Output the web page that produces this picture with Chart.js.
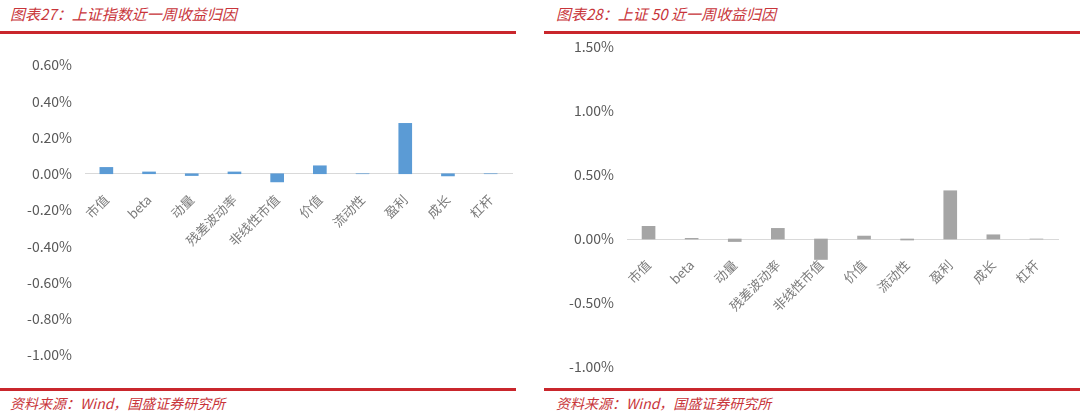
<!DOCTYPE html>
<html>
<head>
<meta charset="utf-8">
<script src="https://cdn.jsdelivr.net/npm/chart.js@4/dist/chart.umd.min.js"></script>
<style>
  body { margin: 0; width: 1080px; height: 414px; background: #fff; position: relative; overflow: hidden; }
  .title { position: absolute; top: 3px; font: italic 15px "Noto Sans CJK SC", sans-serif; color: #c8353a; }
  .src { position: absolute; top: 393px; font: italic 14px "Noto Sans CJK SC", sans-serif; color: #c8353a; }
  .line { position: absolute; height: 3px; background: #c9262c; }
  .box { position: absolute; top: 0; width: 540px; height: 414px; }
</style>
</head>
<body>
<div class="title" style="left:10px">图表27：上证指数近一周收益归因</div>
<div class="title" style="left:556px">图表28：上证 50 近一周收益归因</div>
<div class="line" style="left:0;width:516px;top:31px"></div>
<div class="line" style="left:544px;width:536px;top:31px"></div>
<div class="line" style="left:0;width:516px;top:388px"></div>
<div class="line" style="left:544px;width:536px;top:388px"></div>
<div class="src" style="left:10px">资料来源：Wind，国盛证券研究所</div>
<div class="src" style="left:556px">资料来源：Wind，国盛证券研究所</div>

<div class="box" style="left:0"><canvas id="chart1"></canvas></div>
<div class="box" style="left:540px"><canvas id="chart2"></canvas></div>

<script>
// 因子收益归因（%）
const factors = ["市值", "beta", "动量", "残差波动率", "非线性市值", "价值", "流动性", "盈利", "成长", "杠杆"];
const shIndex = [0.035, 0.01, -0.01, 0.01, -0.045, 0.044, 0, 0.278, -0.012, 0];
const sh50 = [0.099, 0.005, -0.02, 0.083, -0.16, 0.023, -0.008, 0.377, 0.033, 0];

const leftTicks = { min: -1.0, max: 0.6, step: 0.2 };
const rightTicks = { min: -1.0, max: 1.5, step: 0.5 };

function makeChart(id, values, color, ticks, yWidth, pad) {
  return new Chart(document.getElementById(id), {
    type: "bar",
    data: {
      labels: factors,
      datasets: [{ data: values, backgroundColor: color, barThickness: 13 }]
    },
    options: {
      responsive: true,
      maintainAspectRatio: false,
      animation: false,
      layout: { padding: pad },
      plugins: { legend: { display: false }, tooltip: { enabled: false } },
      scales: {
        x: {
          position: { y: 0 },
          // tick marks hidden, tickLength only pushes the labels down
          grid: { display: false, drawTicks: true, tickLength: 10 },
          border: { display: true, color: "#d9d9d9", width: 1 },
          ticks: {
            autoSkip: false, minRotation: 45, maxRotation: 45, padding: 8,
            color: "#7a7a7a", font: { family: "Noto Sans CJK SC", size: 13 }
          },
          afterFit: s => { s.height = 0; }
        },
        y: {
          min: ticks.min, max: ticks.max,
          grid: { display: false, drawTicks: false },
          border: { display: false },
          ticks: {
            stepSize: ticks.step, padding: 13, color: "#595959",
            font: { family: "Noto Sans CJK SC", size: 14 },
            callback: v => v.toFixed(2) + "%"
          },
          afterFit: s => { s.width = yWidth; }
        }
      }
    }
  });
}

makeChart("chart1", shIndex, "#5b9bd5", leftTicks, 85, { top: 65, bottom: 59, left: 0, right: 28 });
makeChart("chart2", sh50, "#a5a5a5", rightTicks, 87, { top: 47, bottom: 47, left: 0, right: 22 });
</script>
</body>
</html>
